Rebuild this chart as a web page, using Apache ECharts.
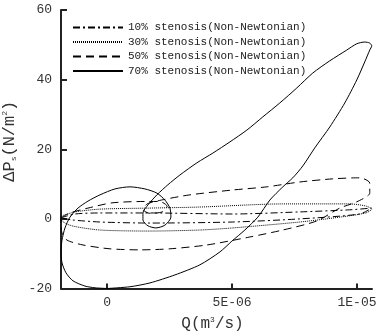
<!DOCTYPE html>
<html><head><meta charset="utf-8">
<script src="https://cdn.jsdelivr.net/npm/echarts@6/dist/echarts.min.js"></script>
<style>html,body{margin:0;padding:0;background:#fff}#c{width:381px;height:333px}</style>
</head><body><div id="c"></div>
<script>
// Q in units of 1e-6 m^3/s, dP in N/m^2
const seriesNames = ['10% stenosis(Non-Newtonian)','30% stenosis(Non-Newtonian)','50% stenosis(Non-Newtonian)','70% stenosis(Non-Newtonian)'];
const q10 = [-1.85,-1.29,-0.29,1.71,5.03,7.71,9.71,10.59,10.11,7.71,5.03,1.71,-0.29,-1.41,-1.85];
const p10 = [0.3,1.4,1.7,1.7,1.4,2.0,2.6,3.1,1.4,0.0,-0.9,-1.2,-0.9,-0.3,0.3];
const q30 = [-1.85,-1.29,-0.29,1.71,3.71,7.03,9.71,10.35,10.59,10.35,9.31,7.71,5.03,3.71,1.71,-0.29,-1.41,-1.81,-1.85];
const p30 = [0.8,2.0,2.8,3.1,3.4,4.3,4.3,3.7,2.8,1.7,0.5,-0.9,-2.6,-3.2,-3.5,-3.2,-2.0,-0.6,0.8];
const q50 = [-1.85,-1.49,-0.77,0.19,1.5,2.1,2.4,2.2,1.7,1.45,1.6,2.3,3.31,5.03,6.39,7.71,9.03,10.11,10.51,10.51,9.99,9.31,8.39,7.03,5.71,3.99,2.51,1.31,0.11,-0.97,-1.61,-1.81,-1.85,-1.85];
const p50 = [0.3,1.7,3.1,4.6,5.0,5.0,3.6,2.0,1.6,2.6,4.3,5.6,6.9,8.3,9.2,10.6,11.5,11.8,10.3,7.4,4.9,3.1,-0.6,-3.2,-5.2,-7.5,-8.6,-8.9,-8.6,-7.5,-6.1,-4.0,-1.7,0.3];
const q70 = [0,0.91,1.71,2.71,3.71,4.51,4.99,5.51,6.03,6.51,7.03,7.43,7.83,8.31,8.91,9.51,9.99,10.31,10.51,10.59,10.51,10.31,9.99,9.59,8.91,8.23,7.59,6.91,6.23,5.59,4.91,4.23,3.59,2.91,2.43,1.99,1.63,1.43,1.43,1.63,1.95,2.31,2.55,2.51,2.31,1.99,1.51,0.91,0.31,-0.29,-0.77,-1.17,-1.49,-1.69,-1.81,-1.85,-1.81,-1.65,-1.37,-0.89,-0.49,0];
const p70 = [-20,-19.5,-18.4,-16.1,-13.2,-9.5,-6.4,-3.2,0.5,5.4,9.2,11.8,15.2,20.4,26.4,33.3,39.9,45.1,48.5,49.7,50.5,50.8,50.3,48.5,45.4,41.9,37.6,33.3,29.3,25.5,22.1,18.9,16.1,12.6,9.8,6.9,4.0,1.7,-0.3,-2.0,-2.6,-1.8,0.5,3.1,5.4,7.4,8.6,9.2,8.6,6.9,5.1,3.1,0.5,-2.6,-6.1,-9.5,-12.6,-15.5,-17.8,-19.3,-19.8,-20];
const xTickValues = [0,5,10];
const xTickLabels = ['0','5E-06','1E-05'];
const yMin = -20, yMax = 60, yStep = 20;

const zip = (a,b)=>a.map((v,i)=>[v,b[i]]);
const styles = [
  {type:[7,3,2,3], width:1},
  {type:[1,1], width:1},
  {type:[8,5], width:1},
  {type:'solid', width:1}
];
const qs=[q10,q30,q50,q70], ps=[p10,p30,p50,p70];
const font = 'Liberation Mono';
const chart = echarts.init(document.getElementById('c'));
chart.setOption({
  animation:false,
  backgroundColor:'#fff',
  grid:{left:61,right:9,top:10,bottom:44.5,containLabel:false,outerBoundsMode:'none'},
  legend:{
    orient:'vertical', left:67, top:17, itemWidth:50, itemHeight:10, itemGap:3.5,
    textStyle:{fontFamily:font,fontSize:11,color:'#222'},
    itemStyle:{opacity:0},
    data:seriesNames
  },
  xAxis:{
    type:'value', min:-1.85, max:10.6,
    splitLine:{show:false},
    axisLine:{show:true,onZero:false,lineStyle:{color:'#222',width:2}},
    axisTick:{show:true,inside:true,length:5,customValues:xTickValues,lineStyle:{color:'#222',width:2}},
    axisLabel:{customValues:xTickValues,formatter:v=>xTickLabels[xTickValues.indexOf(v)],fontFamily:font,fontSize:13,color:'#333',margin:8},
    name:'Q(m{sup|3}/s)', nameLocation:'middle', nameGap:27,
    nameTextStyle:{fontFamily:font,fontSize:16,color:'#333',padding:[0,8,0,0],rich:{sup:{fontFamily:font,fontSize:8,padding:[0,0,9,0]}}}
  },
  yAxis:{
    type:'value', min:yMin, max:yMax, interval:yStep,
    splitLine:{show:false},
    axisLine:{show:true,onZero:false,lineStyle:{color:'#222',width:2}},
    axisTick:{show:true,inside:true,length:6,lineStyle:{color:'#222',width:2}},
    axisLabel:{fontFamily:font,fontSize:13,color:'#333',margin:9},
    name:'ΔP{sub|s}(N/m{sup|2})', nameLocation:'middle', nameGap:27,
    nameTextStyle:{fontFamily:font,fontSize:17,color:'#333',padding:[0,0,0,16],rich:{sub:{fontFamily:font,fontSize:8,padding:[9,0,0,0]},sup:{fontFamily:font,fontSize:8,padding:[0,0,9,0]}}}
  },
  series: seriesNames.map((n,i)=>({
    name:n, type:'line', data:zip(qs[i],ps[i]), showSymbol:false, symbol:'none',
    smooth:0.25, clip:false,
    lineStyle:Object.assign({color:'#000'},styles[i]),
    itemStyle:{color:'#000'}
  }))
});
</script></body></html>
